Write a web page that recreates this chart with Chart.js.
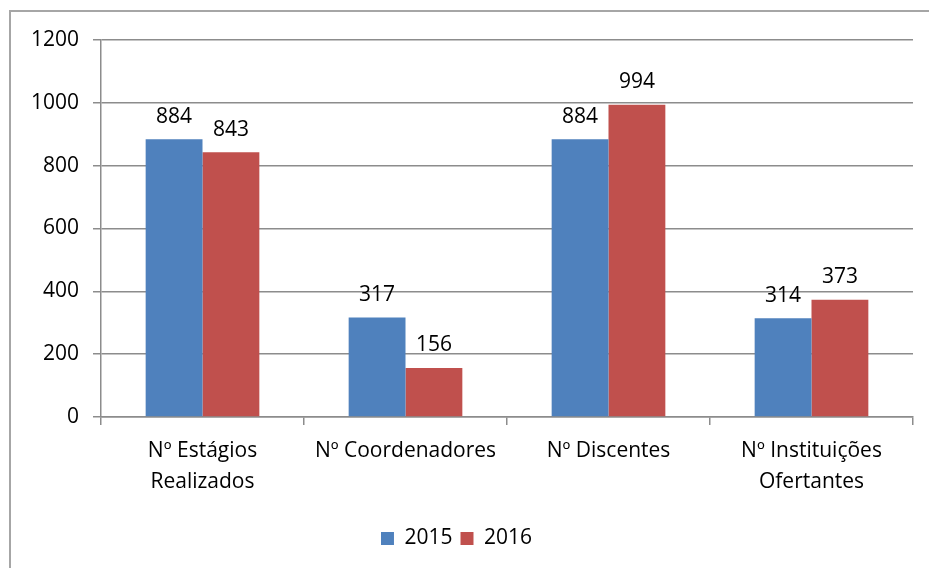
<!DOCTYPE html>
<html>
<head>
<meta charset="utf-8">
<script src="https://cdn.jsdelivr.net/npm/chart.js@4"></script>
<style>
  html, body { margin: 0; padding: 0; background: #fff; }
  #wrap { position: relative; width: 929px; height: 568px; }
</style>
</head>
<body>
<div id="wrap"><canvas id="grafico" width="929" height="568"></canvas></div>
<script>
var categorias = [["Nº Estágios", "Realizados"], "Nº Coordenadores", "Nº Discentes", ["Nº Instituições", "Ofertantes"]]
var anos = ["2015", "2016"]
var valores2015 = [884, 317, 884, 314]
var valores2016 = [843, 156, 994, 373]
var ticksY = [0, 200, 400, 600, 800, 1000, 1200]

var fonte = "'Open Sans', Calibri, sans-serif"

// moldura cinza em volta (topo e esquerda, o resto sai da imagem)
var moldura = {
  id: 'moldura',
  beforeDraw: function(chart) {
    var ctx = chart.ctx
    ctx.save()
    ctx.fillStyle = '#fff'
    ctx.fillRect(0, 0, chart.width, chart.height)
    ctx.strokeStyle = '#a6a6a6'
    ctx.lineWidth = 2
    ctx.beginPath()
    ctx.moveTo(10, chart.height)
    ctx.lineTo(10, 11)
    ctx.lineTo(chart.width, 11)
    ctx.stroke()
    ctx.restore()
  }
}

// rótulos com os valores acima das barras
var rotulos = {
  id: 'rotulos',
  afterDatasetsDraw: function(chart) {
    var ctx = chart.ctx
    ctx.save()
    ctx.fillStyle = '#000'
    ctx.font = '21px ' + fonte
    ctx.textAlign = 'center'
    ctx.textBaseline = 'bottom'
    chart.data.datasets.forEach(function(ds, i) {
      chart.getDatasetMeta(i).data.forEach(function(bar, j) {
        ctx.fillText(ds.data[j], bar.x, bar.y - 12)
      })
    })
    ctx.restore()
  }
}

var ctx = document.getElementById("grafico").getContext('2d')
var grafico = new Chart(ctx, {
  type: 'bar',
  data: {
    labels: categorias,
    datasets: [{
      label: anos[0],
      data: valores2015,
      backgroundColor: "#4f81bd"
    },
    {
      label: anos[1],
      data: valores2016,
      backgroundColor: "#c0504d"
    }]
  },
  options: {
    responsive: false,
    animation: false,
    layout: { padding: { top: 40, right: 16, left: 0, bottom: 9 } },
    datasets: { bar: { categoryPercentage: 0.56, barPercentage: 1 } },
    plugins: {
      tooltip: { enabled: false },
      legend: {
        display: true,
        position: "bottom",
        labels: {
          color: '#000',
          font: { family: fonte, size: 21 },
          boxWidth: 13,
          boxHeight: 13,
          padding: 8
        }
      }
    },
    scales: {
      x: {
        grid: { offset: true, drawOnChartArea: false, tickLength: 8, color: '#8c8c8c', lineWidth: 1.5 },
        border: { color: '#8c8c8c', width: 1.5 },
        ticks: {
          color: '#000',
          font: { family: fonte, size: 21, lineHeight: 1.5 },
          padding: 10,
          maxRotation: 0
        },
        afterFit: function(s) { s.height = 103 }
      },
      y: {
        min: 0,
        max: 1200,
        afterBuildTicks: function(s) { s.ticks = ticksY.map(function(v) { return { value: v } }) },
        grid: { tickLength: 8, color: '#8c8c8c', lineWidth: 1.5 },
        border: { color: '#8c8c8c', width: 1.5 },
        ticks: {
          color: '#000',
          font: { family: fonte, size: 21 },
          padding: 14,
          callback: function(v) { return String(v) }
        },
        afterFit: function(s) { s.width = 101 }
      }
    }
  },
  plugins: [moldura, rotulos]
})
</script>
</body>
</html>
